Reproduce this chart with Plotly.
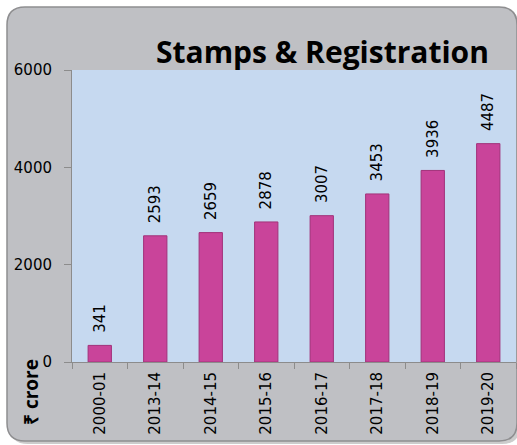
import plotly.graph_objects as go

years = ["2000-01", "2013-14", "2014-15", "2015-16", "2016-17", "2017-18", "2018-19", "2019-20"]
revenue = [341, 2593, 2659, 2878, 3007, 3453, 3936, 4487]
title_text = "Stamps & Registration"
y_title = "₹ crore"

W, H = 517, 445
L, R, T, B = 72, 516, 70, 362  # plot area in pixels

def px(x):
    return (x - L) / (R - L)

def py(y):
    return (B - y) / (B - T)

def rounded_path(x0, y0, x1, y1, r):
    pts = []
    pts.append(f"M {px(x0 + r)} {py(y0)}")
    pts.append(f"L {px(x1 - r)} {py(y0)}")
    pts.append(f"Q {px(x1)} {py(y0)} {px(x1)} {py(y0 + r)}")
    pts.append(f"L {px(x1)} {py(y1 - r)}")
    pts.append(f"Q {px(x1)} {py(y1)} {px(x1 - r)} {py(y1)}")
    pts.append(f"L {px(x0 + r)} {py(y1)}")
    pts.append(f"Q {px(x0)} {py(y1)} {px(x0)} {py(y1 - r)}")
    pts.append(f"L {px(x0)} {py(y0 + r)}")
    pts.append(f"Q {px(x0)} {py(y0)} {px(x0 + r)} {py(y0)}")
    pts.append("Z")
    return " ".join(pts)

fig = go.Figure()
fig.add_trace(go.Bar(
    x=years, y=revenue,
    marker=dict(color="#c9449a", line=dict(color="#a2327a", width=1)),
    texttemplate="  %{y}",
    textposition="outside",
    textangle=-90,
    constraintext="none",
    cliponaxis=False,
    textfont=dict(family="DejaVu Sans", size=15, color="#000000"),
    width=0.42,
    hoverinfo="skip",
))

fig.update_layout(
    width=W, height=H, autosize=False,
    margin=dict(l=L, r=W - R, t=T, b=H - B, pad=0),
    paper_bgcolor="#ffffff",
    plot_bgcolor="rgba(0,0,0,0)",
    showlegend=False,
    font=dict(family="DejaVu Sans", size=15, color="#000000"),
    xaxis=dict(
        type="category", range=[-0.5, 7.5],
        tickangle=-90, tickson="boundaries",
        ticks="outside", ticklen=6, tickcolor="#8c8c8c",
        ticklabelstandoff=3,
        showline=True, linecolor="#8c8c8c", linewidth=1,
        showgrid=False, tickfont=dict(family="DejaVu Sans", size=15),
        fixedrange=True,
    ),
    yaxis=dict(
        range=[0, 6000], dtick=2000, tick0=0,
        ticks="outside", ticklen=7, tickcolor="#8c8c8c",
        ticklabelstandoff=9,
        showline=True, linecolor="#8c8c8c", linewidth=1,
        showgrid=False, zeroline=False,
        tickfont=dict(family="DejaVu Sans", size=15),
        fixedrange=True,
    ),
    shapes=[
        dict(type="path", xref="paper", yref="paper", layer="below",
             path=rounded_path(10, 10, 520, 444, 18),
             fillcolor="#9a9a9a", line=dict(width=0), opacity=0.5),
        dict(type="path", xref="paper", yref="paper", layer="below",
             path=rounded_path(7, 7, 517, 441, 18),
             fillcolor="#bfc0c4", line=dict(color="#8e8e90", width=1.5)),
        dict(type="rect", xref="paper", yref="paper", layer="below",
             x0=0, x1=1, y0=0, y1=1,
             fillcolor="#c6d9f0", line=dict(width=0)),
    ],
    annotations=[
        dict(text=f"<b>{title_text}</b>", xref="paper", yref="paper",
             x=px(322), y=py(52), showarrow=False, xanchor="center", yanchor="middle",
             font=dict(family="Open Sans", size=30, color="#000000")),
        dict(text=f"<b>{y_title}</b>", xref="paper", yref="paper",
             x=px(31), y=py(392), showarrow=False, xanchor="center", yanchor="middle",
             textangle=-90, font=dict(family="Open Sans", size=19, color="#000000")),
    ],
)

fig.write_html("out.html", config={"displayModeBar": False, "staticPlot": True},
               post_script="document.body.style.margin='0';document.body.style.overflow='hidden';")
